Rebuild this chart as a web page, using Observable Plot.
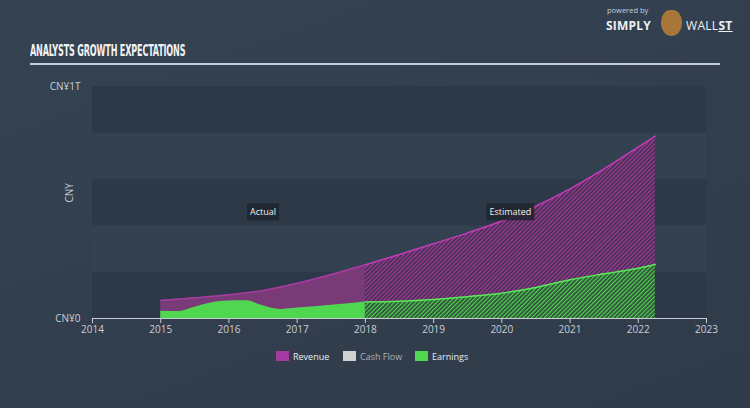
<!DOCTYPE html>
<html>
<head>
<meta charset="utf-8">
<script src="https://cdn.jsdelivr.net/npm/d3@7"></script>
<script src="https://cdn.jsdelivr.net/npm/@observablehq/plot@0.6"></script>
<style>
  html, body { margin: 0; padding: 0; }
  body { width: 750px; height: 408px; overflow: hidden; position: relative;
         background: linear-gradient(160deg, #354353 0%, #323e4d 60%, #303b49 100%);
         font-family: "Open Sans", "DejaVu Sans", sans-serif; }
  #chart { position: absolute; left: 0; top: 0; }
  .title { position: absolute; left: 30px; top: 44px; line-height: 1; color: #f2f2f2; font-family: "DejaVu Sans Condensed", "DejaVu Sans", sans-serif;
           font-weight: bold; font-size: 15px; letter-spacing: -0.3px; transform: scaleX(0.6); transform-origin: left; white-space: nowrap; }
  .rule { position: absolute; left: 30px; top: 63px; width: 690px; height: 2px; background: #c9ced6; }
  .logo1 { position: absolute; left: 607px; top: 7px; line-height: 1; color: #c9ced6; font-size: 7.5px; }
  .logo2 { position: absolute; left: 606px; top: 20px; line-height: 1; color: #eef0f2; font-size: 12px; font-weight: bold; letter-spacing: 0.2px; }
  .logo3 { position: absolute; left: 686px; top: 20px; line-height: 1; color: #eef0f2; font-size: 12px; letter-spacing: 0.3px; }
  .bull { position: absolute; left: 661px; top: 10px; width: 21px; height: 26px; border-radius: 45% 45% 50% 50%; background: #a9763a; }
  .legend { position: absolute; top: 350px; left: 0; width: 750px; font-size: 9px; }
  .legend span { position: absolute; top: 0; }
  .sw { width: 13px; height: 10px; top: 1px !important; }
</style>
</head>
<body>
<div class="logo1">powered by</div>
<div class="logo2">SIMPLY</div>
<div class="bull"></div>
<div class="logo3">WALL<u style="font-weight:bold">ST</u></div>
<div class="title">ANALYSTS GROWTH EXPECTATIONS</div>
<div class="rule"></div>
<div id="chart"></div>
<div class="legend">
  <span class="sw" style="left:276px;background:#a53aa0"></span><span style="left:293px;color:#e9ecef">Revenue</span>
  <span class="sw" style="left:343px;background:#d0d0d0"></span><span style="left:360px;color:#aab1ba">Cash Flow</span>
  <span class="sw" style="left:415px;background:#4fd84f"></span><span style="left:432px;color:#e9ecef">Earnings</span>
</div>
<script>
// Values in CNY trillions
const revActualYears = [2015, 2015.5, 2016, 2016.5, 2017, 2017.5, 2018];
const revActual      = [0.078, 0.089, 0.102, 0.121, 0.152, 0.190, 0.232];
const earnActualYears = [2015, 2015.25, 2015.5, 2015.75, 2016, 2016.25, 2016.5, 2016.75, 2017, 2017.5, 2018];
const earnActual      = [0.031, 0.030, 0.049, 0.068, 0.075, 0.077, 0.055, 0.039, 0.045, 0.057, 0.071];
const estYears   = [2018, 2018.5, 2019, 2019.5, 2020, 2020.5, 2021, 2021.5, 2022, 2022.25];
const revEst     = [0.232, 0.276, 0.322, 0.369, 0.420, 0.484, 0.559, 0.645, 0.739, 0.786];
const earnEst    = [0.071, 0.074, 0.082, 0.094, 0.109, 0.134, 0.167, 0.193, 0.217, 0.233];
const xTicks = [2014, 2015, 2016, 2017, 2018, 2019, 2020, 2021, 2022, 2023];
const yTicks = [0, 1];
const yTickLabels = ["CN¥0", "CN¥1T"];
const bandEdges = [0, 0.2, 0.4, 0.6, 0.8, 1.0];
const periodLabels = [{x: 2016.5, y: 0.457, text: "Actual"}, {x: 2020.125, y: 0.457, text: "Estimated"}];

const zip = (xs, ys) => xs.map((x, i) => ({x, y: ys[i]}));
const revA = zip(revActualYears, revActual);
const earnA = zip(earnActualYears, earnActual);
const revE = zip(estYears, revEst);
const earnE = zip(estYears, earnEst);
const bands = bandEdges.slice(0, -1).map((b, i) => ({y1: b, y2: bandEdges[i + 1], dark: i % 2 === 0}));

const chart = Plot.plot({
  width: 750, height: 408,
  marginLeft: 92, marginRight: 44, marginTop: 86, marginBottom: 90,
  style: {background: "transparent", color: "#c9ced6", fontSize: "10px", fontFamily: "'Open Sans', sans-serif"},
  x: {domain: [2014, 2023]},
  y: {domain: [0, 1]},
  marks: [
    Plot.rect(bands, {x1: 2014, x2: 2023, y1: "y1", y2: "y2", fill: d => d.dark ? "#2d3948" : "#334151", inset: 0}),
    Plot.areaY(revA, {x: "x", y: "y", fill: "#793a78", curve: "monotone-x"}),
    Plot.areaY(revE, {x: "x", y: "y", fill: "url(#hatchRev)", curve: "monotone-x"}),
    Plot.lineY(revA, {x: "x", y: "y", stroke: "#a83ba3", strokeWidth: 1.5, curve: "monotone-x"}),
    Plot.lineY(revE, {x: "x", y: "y", stroke: "#c23db8", strokeWidth: 1.5, curve: "monotone-x"}),
    Plot.areaY(earnA, {x: "x", y: "y", fill: "#50d650", curve: "monotone-x"}),
    Plot.areaY(earnE, {x: "x", y: "y", fill: "url(#hatchEarn)", curve: "monotone-x"}),
    Plot.lineY(earnE, {x: "x", y: "y", stroke: "#5ae85a", strokeWidth: 1.5, curve: "monotone-x"}),
    Plot.ruleY([0], {stroke: "#c9ced6", strokeWidth: 1.2}),
    Plot.axisX({ticks: xTicks, tickFormat: d => String(d), tickSize: 5, tickPadding: 2, stroke: "#c9ced6", fill: "#c9ced6", label: null}),
    Plot.axisY({ticks: yTicks, tickFormat: d => yTickLabels[yTicks.indexOf(d)], tickSize: 0, tickPadding: 12, fill: "#c9ced6", label: null}),
    Plot.text(["CNY"], {frameAnchor: "left", dx: -23, rotate: -90, fill: "#c9ced6", fontSize: 10}),
    Plot.text(periodLabels, {x: "x", y: "y", text: "text", fill: "#f0f0f0", fontSize: 9})
  ]
});

const svg = d3.select(chart);
const defs = svg.insert("defs", ":first-child");
function hatch(id, bg, fg) {
  const p = defs.append("pattern").attr("id", id).attr("patternUnits", "userSpaceOnUse")
    .attr("width", 3).attr("height", 3).attr("patternTransform", "rotate(45)");
  p.append("rect").attr("width", 3).attr("height", 3).attr("fill", bg);
  p.append("rect").attr("width", 1.3).attr("height", 3).attr("fill", fg);
}
hatch("hatchRev", "#3f2f4a", "#a53ba0");
hatch("hatchEarn", "#2f4a3c", "#4fd24f");
document.getElementById("chart").appendChild(chart);

// dark boxes behind period labels
const labelTexts = periodLabels.map(d => d.text);
svg.selectAll("text").filter(function () { return labelTexts.includes(this.textContent); }).each(function () {
  const b = this.getBBox();
  const g = d3.select(this.parentNode);
  g.insert("rect", () => this)
    .attr("transform", this.getAttribute("transform"))
    .attr("x", b.x - 3).attr("y", b.y - 2).attr("width", b.width + 6).attr("height", b.height + 4)
    .attr("fill", "#1e252e").attr("fill-opacity", 0.85);
});
</script>
</body>
</html>
